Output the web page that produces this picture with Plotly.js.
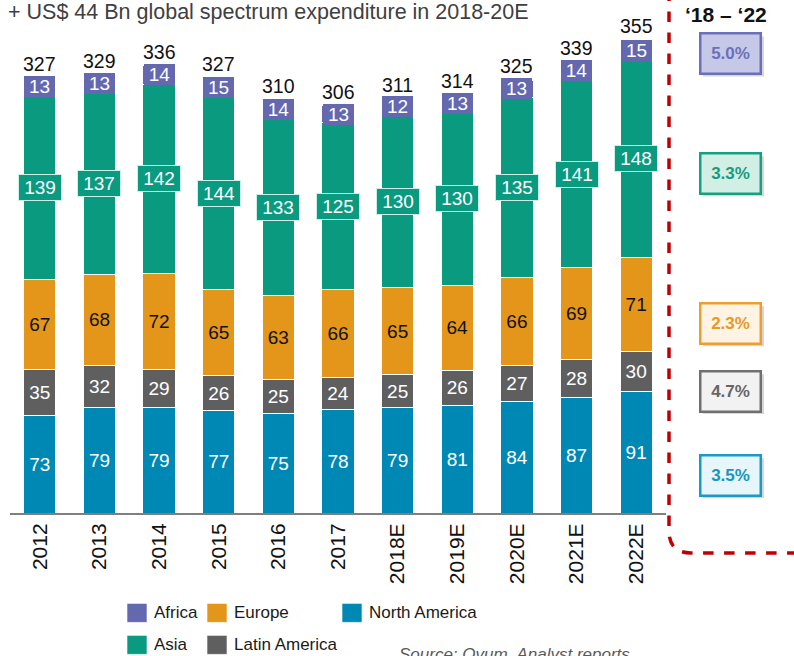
<!DOCTYPE html>
<html>
<head>
<meta charset="utf-8">
<script src="https://cdn.plot.ly/plotly-3.0.1.min.js"></script>
<style>html,body{margin:0;padding:0;background:#fff;}#chart{width:794px;height:656px;}</style>
</head>
<body>
<div id="chart"></div>
<script>
const years = ['2012','2013','2014','2015','2016','2017','2018E','2019E','2020E','2021E','2022E'];
const northAmerica = [73,79,79,77,75,78,79,81,84,87,91];
const latinAmerica = [35,32,29,26,25,24,25,26,27,28,30];
const europe = [67,68,72,65,63,66,65,64,66,69,71];
const asia = [139,137,142,144,133,125,130,130,135,141,148];
const africa = [13,13,14,15,14,13,12,13,13,14,15];
const totals = [327,329,336,327,310,306,311,314,325,339,355];
const seriesNames = ['Africa','Asia','Europe','Latin America','North America'];
const growthLabels = ['5.0%','3.3%','2.3%','4.7%','3.5%'];
const titleText = '+ US$ 44 Bn global spectrum expenditure in 2018-20E';
const periodText = '\u201818 \u2013 \u201822';
const sourceText = 'Source: Ovum, Analyst reports';

const FONT = 'Liberation Sans, Arial, sans-serif';
const colors = {
  'Africa': '#6468ae',
  'Asia': '#0a9a80',
  'Europe': '#e3961a',
  'Latin America': '#5f5f5f',
  'North America': '#0088b5'
};

// plot area in pixels
const L = 10, R = 666, T = 6.5, B = 513;
const W = 794, H = 656;
const px = v => (v - L) / (R - L);
const py = v => (B - v) / (B - T);

const BW = 0.54;
function barTrace(name, vals, txtColor, showText) {
  return {
    type: 'bar', name: name, x: years, y: vals,
    width: BW,
    marker: {color: colors[name], line: {color: '#ffffff', width: 1}},
    text: showText ? vals.map(String) : undefined,
    textposition: showText ? 'inside' : 'none',
    insidetextanchor: 'middle',
    textangle: 0,
    constraintext: 'none',
    textfont: {family: FONT, size: 19, color: txtColor},
    hoverinfo: 'x+y+name',
    showlegend: false
  };
}

const data = [
  barTrace('North America', northAmerica, '#ffffff', true),
  barTrace('Latin America', latinAmerica, '#ffffff', true),
  barTrace('Europe', europe, '#111111', true),
  barTrace('Asia', asia, '#ffffff', false),
  barTrace('Africa', africa, '#ffffff', false)
];

const annotations = [];
years.forEach((yr, i) => {
  // totals (x given as category index)
  annotations.push({
    x: i, y: totals[i], xref: 'x', yref: 'y', text: String(totals[i]),
    showarrow: false, yanchor: 'bottom', yshift: 1,
    font: {family: FONT, size: 19.5, color: '#111111'}
  });
  // Asia labels in boxes
  const base = northAmerica[i] + latinAmerica[i] + europe[i];
  annotations.push({
    x: i, y: base + asia[i] / 2, xref: 'x', yref: 'y', text: String(asia[i]),
    showarrow: false, bgcolor: colors['Asia'], bordercolor: '#cdeee6', borderwidth: 1,
    width: 40, height: 23,
    font: {family: FONT, size: 19, color: '#ffffff'}
  });
  // Africa labels in boxes
  const baseAf = base + asia[i];
  annotations.push({
    x: i, y: baseAf + africa[i] / 2, xref: 'x', yref: 'y', text: String(africa[i]),
    showarrow: false, bgcolor: colors['Africa'], bordercolor: '#ffffff', borderwidth: 0,
    width: 31, height: 21, borderpad: 0,
    font: {family: FONT, size: 19, color: '#ffffff'}
  });
});

// title
annotations.push({
  xref: 'paper', yref: 'paper', x: px(6), y: py(12), xanchor: 'left', yanchor: 'middle',
  text: titleText, showarrow: false, font: {family: FONT, size: 21.5, color: '#404040'}
});
// period header
annotations.push({
  xref: 'paper', yref: 'paper', x: px(726), y: py(14), xanchor: 'center', yanchor: 'middle',
  text: '<b>' + periodText + '</b>', showarrow: false, font: {family: FONT, size: 21, color: '#111111'}
});
// source
annotations.push({
  xref: 'paper', yref: 'paper', x: px(397), y: py(643), xanchor: 'left', yanchor: 'top',
  text: '<i>' + sourceText + '</i>', showarrow: false, font: {family: FONT, size: 17, color: '#595959'}
});

const shapes = [];
// dashed rounded bracket
shapes.push({
  type: 'path', xref: 'paper', yref: 'paper',
  path: `M ${px(669)},${py(-10)} L ${px(669)},${py(531)} Q ${px(669)},${py(553)} ${px(691)},${py(553)} L ${px(810)},${py(553)}`,
  line: {color: '#c00000', width: 3.5, dash: 'dash'}
});

// growth boxes
const growthBoxes = [
  {cy: 53, bg: '#c6c8e8', border: '#6c70b8', txt: '#6c70b8'},
  {cy: 173, bg: '#d2efe6', border: '#17a082', txt: '#1a9a7c'},
  {cy: 323, bg: '#fff3e4', border: '#e9a030', txt: '#e69a25'},
  {cy: 391, bg: '#f2f2f2', border: '#707070', txt: '#666666'},
  {cy: 475, bg: '#e6f6fb', border: '#1a9ac4', txt: '#1a93c0'}
];
growthBoxes.forEach((g, i) => {
  const x0 = 700, x1 = 761, y0 = g.cy - 20, y1 = g.cy + 20;
  shapes.push({type: 'rect', xref: 'paper', yref: 'paper', x0: px(x0 + 3), x1: px(x1 + 3), y0: py(y0 + 3), y1: py(y1 + 3),
    fillcolor: 'rgba(0,0,0,0.16)', line: {width: 0}, layer: 'below'});
  annotations.push({xref: 'paper', yref: 'paper', x: px((x0 + x1) / 2), y: py(g.cy), xanchor: 'center', yanchor: 'middle',
    text: '<b>' + growthLabels[i] + '</b>', showarrow: false,
    width: 56, height: 36, bgcolor: g.bg, bordercolor: g.border, borderwidth: 2.5, borderpad: 1,
    font: {family: FONT, size: 17, color: g.txt}});
});

// manual legend
const legendItems = [
  {name: 'Africa', sx: 127, cy: 613},
  {name: 'Europe', sx: 207, cy: 613},
  {name: 'North America', sx: 342, cy: 613},
  {name: 'Asia', sx: 127, cy: 645},
  {name: 'Latin America', sx: 207, cy: 645}
];
legendItems.forEach(it => {
  shapes.push({type: 'rect', xref: 'paper', yref: 'paper', x0: px(it.sx), x1: px(it.sx + 20), y0: py(it.cy - 9.5), y1: py(it.cy + 9.5),
    fillcolor: colors[it.name], line: {color: 'rgba(255,255,255,0.6)', width: 1}});
  annotations.push({xref: 'paper', yref: 'paper', x: px(it.sx + 25), y: py(it.cy), xanchor: 'left', yanchor: 'middle',
    text: it.name, showarrow: false, font: {family: FONT, size: 17, color: '#1a1a1a'}});
});

const layout = {
  width: W, height: H,
  margin: {l: L, r: W - R, t: T, b: H - B, pad: 0},
  barmode: 'stack',
  bargap: 0.46,
  paper_bgcolor: '#ffffff', plot_bgcolor: '#ffffff',
  showlegend: false,
  font: {family: FONT},
  xaxis: {
    type: 'category', range: [-0.5, 10.5], tickangle: -90,
    tickfont: {family: FONT, size: 21, color: '#111111'},
    showline: true, linecolor: '#7f7f7f', linewidth: 2,
    ticks: '', showgrid: false, zeroline: false, fixedrange: true
  },
  yaxis: {
    range: [0, 380], visible: false, showgrid: false, zeroline: false, fixedrange: true
  },
  annotations: annotations,
  shapes: shapes
};

Plotly.newPlot('chart', data, layout, {displayModeBar: false, staticPlot: true});
</script>
</body>
</html>
